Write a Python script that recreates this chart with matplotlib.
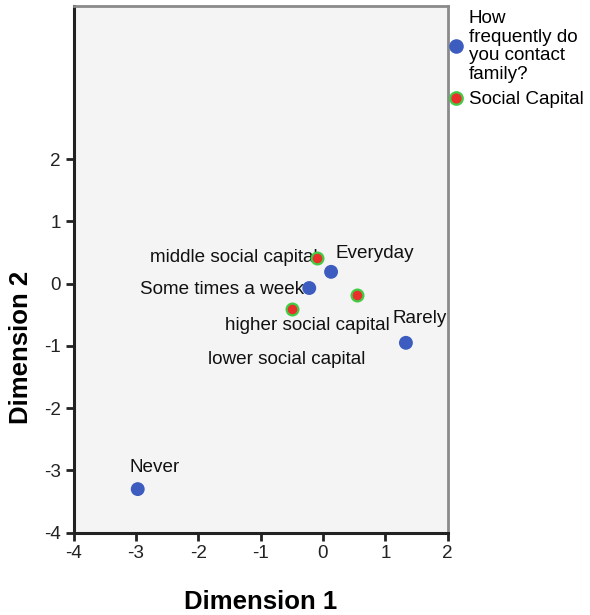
import matplotlib
matplotlib.use("Agg")
import matplotlib.pyplot as plt
from matplotlib.lines import Line2D

# Category points for "How frequently do you contact family?"
contact_labels = ["Everyday", "Some times a week", "Rarely", "Never"]
contact_dim1 = [0.13, -0.22, 1.33, -2.97]
contact_dim2 = [0.19, -0.07, -0.95, -3.30]

# Category points for "Social Capital"
capital_labels = ["middle social capital", "higher social capital", "lower social capital"]
capital_dim1 = [-0.10, -0.50, 0.54]
capital_dim2 = [0.42, -0.40, -0.18]

x_ticks = [-4, -3, -2, -1, 0, 1, 2]
y_ticks = [-4, -3, -2, -1, 0, 1, 2]

BLUE = "#3c5cc0"
RED = "#ea2f2a"
GREEN = "#42cc45"
BG = "#f4f4f4"
FONT = "Liberation Sans"

plt.rcParams["font.family"] = [FONT, "DejaVu Sans"]

fig = plt.figure(figsize=(5.9, 6.15), dpi=100)
ax = fig.add_axes([73.5 / 590, 1 - 532.7 / 615, (447.7 - 73.5) / 590, (532.7 - 6) / 615])
ax.set_facecolor(BG)
ax.set_xlim(-4, 2)
ax.set_ylim(-4, 4.46)

ax.scatter(contact_dim1, contact_dim2, s=100, color=BLUE, edgecolors="none", zorder=3)
ax.scatter(capital_dim1, capital_dim2, s=72, color=RED, edgecolors=GREEN,
           linewidths=1.6, zorder=3)

# label offsets in pixels from each point: (dx, dy, ha)
contact_offsets = [(4, 18, "left"), (-5, -1, "right"), (-13, 24, "left"), (-8, 22, "left")]
capital_offsets = [(1, 0, "right"), (-67, -17, "left"), (-149, -65, "left")]

label_kw = dict(textcoords="offset pixels", va="center", fontsize=13.6,
                color="#111111", zorder=2)
for name, x, y, (dx, dy, ha) in zip(capital_labels, capital_dim1, capital_dim2, capital_offsets):
    ax.annotate(name, (x, y), xytext=(dx, dy), ha=ha,
                bbox=dict(boxstyle="square,pad=0", fc=BG, ec="none"), **label_kw)
for name, x, y, (dx, dy, ha) in zip(contact_labels, contact_dim1, contact_dim2, contact_offsets):
    ax.annotate(name, (x, y), xytext=(dx, dy), ha=ha,
                bbox=dict(boxstyle="square,pad=0", fc=BG, ec="none"), **label_kw)

ax.set_xticks(x_ticks)
ax.set_yticks(y_ticks)
ax.set_xticklabels([str(t) for t in x_ticks])
ax.set_yticklabels([str(t) for t in y_ticks])
ax.tick_params(direction="out", length=6, width=2, color="#222222",
               labelsize=13.6, labelcolor="#222222", pad=3)

for side in ("left", "bottom"):
    ax.spines[side].set_color("#222222")
    ax.spines[side].set_linewidth(2.2)
for side in ("top", "right"):
    ax.spines[side].set_color("#8a8a8a")
    ax.spines[side].set_linewidth(2)

ax.set_xlabel("Dimension 1", fontsize=18.5, fontweight="bold", labelpad=20)
ax.set_ylabel("Dimension 2", fontsize=18.5, fontweight="bold")
ax.yaxis.set_label_coords(-0.108, 0.351)

handles = [
    Line2D([], [], linestyle="none", marker="o", markersize=10.5, color=BLUE, markeredgecolor="none"),
    Line2D([], [], linestyle="none", marker="o", markersize=9, color=RED,
           markeredgecolor=GREEN, markeredgewidth=1.6),
]
leg = ax.legend(handles, ["How\nfrequently do\nyou contact\nfamily?", "Social Capital"],
                loc="upper left", bbox_to_anchor=(448 / 590, 1 - 10 / 615),
                bbox_transform=fig.transFigure, frameon=False, fontsize=13.6,
                handlelength=0.8, handletextpad=0.3, borderpad=0, labelspacing=0.45,
                borderaxespad=0)
for t in leg.get_texts():
    t.set_linespacing(1.12)

fig.savefig("out.png", dpi=100, facecolor="white")
